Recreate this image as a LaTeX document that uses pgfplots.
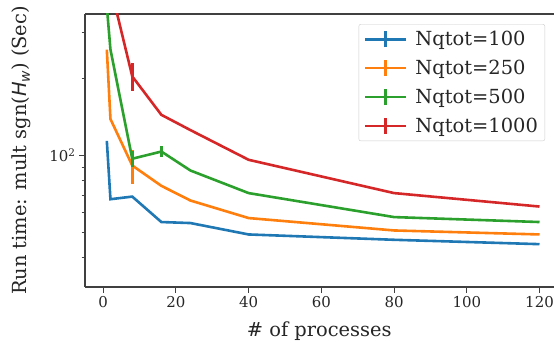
\documentclass[border=0pt]{standalone}
\usepackage{pgfplots}
\pgfplotsset{compat=1.18}
\usepackage{fontspec}
\setmainfont{DejaVu Serif}
\newfontfamily\dvsans{DejaVu Sans}
\definecolor{c1}{HTML}{1F77B4}
\definecolor{c2}{HTML}{FF7F0E}
\definecolor{c3}{HTML}{2CA02C}
\definecolor{c4}{HTML}{D62728}
\definecolor{spine}{HTML}{404040}
\begin{document}
\begin{tikzpicture}
\useasboundingbox (0,0) rectangle (554bp,343bp);
\begin{axis}[
  at={(85bp,56bp)}, anchor=south west,
  scale only axis, width=468.5bp, height=273bp,
  xmin=-5, xmax=123.85, ymode=log, ymin=30.8, ymax=355,
  axis x line*=box, axis y line*=left,
  axis line style={spine, line width=1.2bp, -},
  tick style={spine, line width=1.1bp},
  tick align=outside, xtick pos=bottom, ytick pos=left,
  major tick length=6bp, minor tick length=3.5bp,
  xtick={0,20,...,120},
  ytick={100}, yticklabels={10\textsuperscript{2}},
  minor ytick={40,50,60,70,80,90,200,300},
  /pgf/number format/assume math mode=true,
  ticklabel style={font=\fontsize{15}{17}\selectfont, text=black!85},
  label style={font=\fontsize{19.5}{22}\selectfont, text=black!85},
  xlabel={\# of processes},
  ylabel={Run time: mult sgn({\dvsans\itshape H\raisebox{-0.35ex}{\fontsize{14}{15}\selectfont w}}) (Sec)},
  xlabel style={yshift=-7bp},
  ylabel style={yshift=12bp},
  legend style={at={(0.982,0.963)}, anchor=north east,
    draw=black!20, rounded corners=2bp, fill=white, fill opacity=0.8, text opacity=1,
    font=\fontsize{19.5}{22}\selectfont, text=black!85,
    row sep=9bp, column sep=6bp, inner xsep=5bp, inner ysep=5bp},
  legend cell align=left,
  legend image code/.code={
    \draw[#1, line width=2.6bp] (0bp,0bp) -- (41bp,0bp);
    \draw[#1, line width=2.6bp] (20.5bp,-8bp) -- (20.5bp,8bp);},
  every axis plot/.append style={line width=2.6bp, no marks,
    error bars/y dir=both, error bars/y explicit, error bars/error mark=none,
    error bars/error bar style={line width=2.6bp}},
]
\addplot[c1] table[x=x,y=y,y error=e] {
x y e
1 114 0
2 67.6 0
8 69.2 0
16 55.1 0
24 54.6 0
40 49.3 0
80 47.0 0
120 45.2 0
};
\addlegendentry{Nqtot=100}
\addplot[c2] table[x=x,y=y,y error=e] {
x y e
1 258 0
2 138.6 0
8 91.4 14
16 76.2 0
24 66.8 0
40 57.1 0
80 51.1 0
120 49.3 0
};
\addlegendentry{Nqtot=250}
\addplot[c3] table[x=x,y=y,y error=e] {
x y e
1 380 0
2 258 0
8 97.1 7
16 103.6 5
24 87.4 0
40 71.4 0
80 57.6 0
120 55.1 0
};
\addlegendentry{Nqtot=500}
\addplot[c4] table[x=x,y=y,y error=e] {
x y e
1 800 0
2 455 0
8 203 25
16 143.9 0
24 125.5 0
40 96.2 0
80 71.4 0
120 63.3 0
};
\addlegendentry{Nqtot=1000}
\end{axis}
\end{tikzpicture}
\end{document}
